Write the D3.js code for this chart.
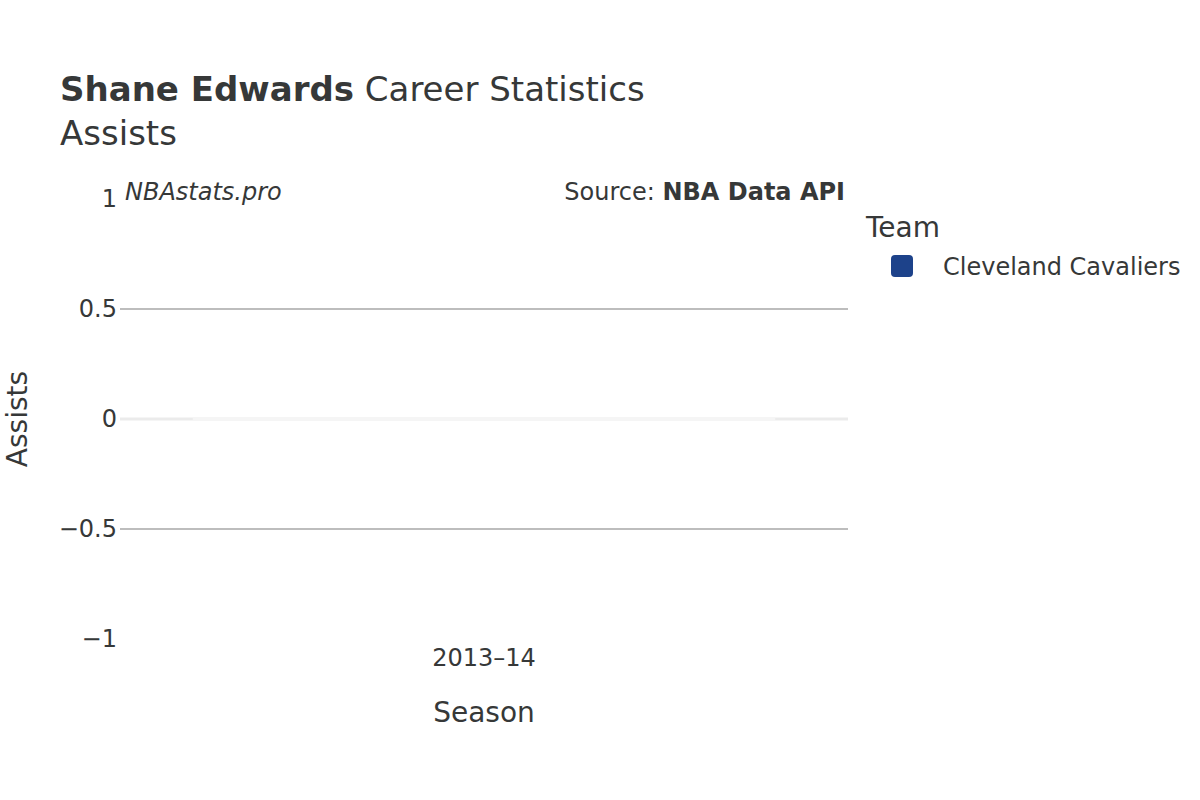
<!DOCTYPE html>
<html>
<head>
<meta charset="utf-8">
<script src="https://cdn.jsdelivr.net/npm/d3@7"></script>
<style>
  body { margin: 0; background: #fff; }
  svg { font-family: "DejaVu Sans", sans-serif; }
</style>
</head>
<body>
<div id="chart"></div>
<script>
(function () {
    "use strict";

    var seasons = ["2013\u201314"];
    var teams = ["Cleveland Cavaliers"];
    var teamColors = ["#1d428a"];
    var assists = [0];
    var yTicks = [-1, -0.5, 0, 0.5, 1];

    var width = 1200, height = 800;
    var margin = { top: 199, right: 352, bottom: 161, left: 120 };
    var innerW = width - margin.left - margin.right;
    var innerH = height - margin.top - margin.bottom;
    var textColor = "#363838";

    var svg = d3.select("#chart").append("svg")
        .attr("width", width)
        .attr("height", height);

    var x = d3.scaleBand()
        .domain(seasons)
        .range([margin.left, margin.left + innerW])
        .paddingInner(0.2)
        .paddingOuter(0.1);

    var y = d3.scaleLinear()
        .domain([-1, 1])
        .range([margin.top + innerH, margin.top]);

    // grid lines
    svg.append("g")
        .selectAll("line")
        .data(yTicks.filter(function (d) { return d !== 0 && Math.abs(d) !== 1; }))
        .enter().append("line")
        .attr("x1", margin.left)
        .attr("x2", margin.left + innerW)
        .attr("y1", function (d) { return y(d); })
        .attr("y2", function (d) { return y(d); })
        .attr("stroke", "#bdbdbd")
        .attr("stroke-width", 2);

    // zero line
    svg.append("line")
        .attr("x1", margin.left)
        .attr("x2", margin.left + innerW)
        .attr("y1", y(0))
        .attr("y2", y(0))
        .attr("stroke", "#ebebeb")
        .attr("stroke-width", 3);

    // bars (zero height, drawn as paths so the outline still shows)
    svg.append("g")
        .selectAll("path")
        .data(assists)
        .enter().append("path")
        .attr("d", function (d, i) {
            var x0 = x(seasons[i]), x1 = x0 + x.bandwidth();
            var yv = y(d), y0 = y(0);
            return "M" + x0 + "," + y0 + "L" + x0 + "," + yv + "L" + x1 + "," + yv + "L" + x1 + "," + y0 + "Z";
        })
        .attr("fill", teamColors[0])
        .attr("stroke", "#ffffff")
        .attr("stroke-opacity", 0.5)
        .attr("stroke-width", 2);

    // y axis labels
    var yAxis = svg.append("g")
        .attr("transform", "translate(" + (margin.left - 3) + ",0)")
        .call(d3.axisLeft(y).tickValues(yTicks).tickSize(0).tickPadding(0)
            .tickFormat(function (d) { return d < 0 ? "\u2212" + Math.abs(d) : String(d); }));
    yAxis.select(".domain").remove();
    yAxis.selectAll("text")
        .attr("fill", textColor)
        .attr("font-size", 24)
        .attr("font-family", "DejaVu Sans, sans-serif");

    // x axis labels
    var xAxis = svg.append("g")
        .attr("transform", "translate(0," + (margin.top + innerH) + ")")
        .call(d3.axisBottom(x).tickSize(0).tickPadding(10));
    xAxis.select(".domain").remove();
    xAxis.selectAll("text")
        .attr("fill", textColor)
        .attr("font-size", 24)
        .attr("font-family", "DejaVu Sans, sans-serif");

    // axis titles
    svg.append("text")
        .attr("x", margin.left + innerW / 2)
        .attr("y", 722)
        .attr("text-anchor", "middle")
        .attr("font-size", 28)
        .attr("fill", textColor)
        .text("Season");

    svg.append("text")
        .attr("transform", "translate(27," + (margin.top + innerH / 2) + ") rotate(-90)")
        .attr("text-anchor", "middle")
        .attr("font-size", 28)
        .attr("fill", textColor)
        .text("Assists");

    // title
    var title = svg.append("text")
        .attr("x", 60)
        .attr("y", 101)
        .attr("font-size", 34)
        .attr("fill", textColor);
    title.append("tspan").attr("font-weight", "bold").text("Shane Edwards");
    title.append("tspan").text(" Career Statistics");

    svg.append("text")
        .attr("x", 60)
        .attr("y", 145)
        .attr("font-size", 34)
        .attr("fill", textColor)
        .text("Assists");

    // annotations
    svg.append("text")
        .attr("x", 125)
        .attr("y", 200)
        .attr("font-size", 24)
        .attr("font-style", "italic")
        .attr("fill", textColor)
        .text("NBAstats.pro");

    var src = svg.append("text")
        .attr("x", 845)
        .attr("y", 200)
        .attr("text-anchor", "end")
        .attr("font-size", 24)
        .attr("fill", textColor);
    src.append("tspan").text("Source: ");
    src.append("tspan").attr("font-weight", "bold").text("NBA Data API");

    // legend
    svg.append("text")
        .attr("x", 866)
        .attr("y", 237)
        .attr("font-size", 28)
        .attr("fill", textColor)
        .text("Team");

    var legend = svg.append("g")
        .selectAll("g")
        .data(teams)
        .enter().append("g")
        .attr("transform", function (d, i) { return "translate(0," + (266 + i * 30) + ")"; });

    legend.append("rect")
        .attr("x", 891)
        .attr("y", -11)
        .attr("width", 22)
        .attr("height", 22)
        .attr("rx", 4)
        .attr("fill", function (d, i) { return teamColors[i]; });

    legend.append("text")
        .attr("x", 943)
        .attr("y", 1)
        .attr("dy", "0.35em")
        .attr("font-size", 24)
        .attr("fill", textColor)
        .text(function (d) { return d; });
})();
</script>
</body>
</html>
